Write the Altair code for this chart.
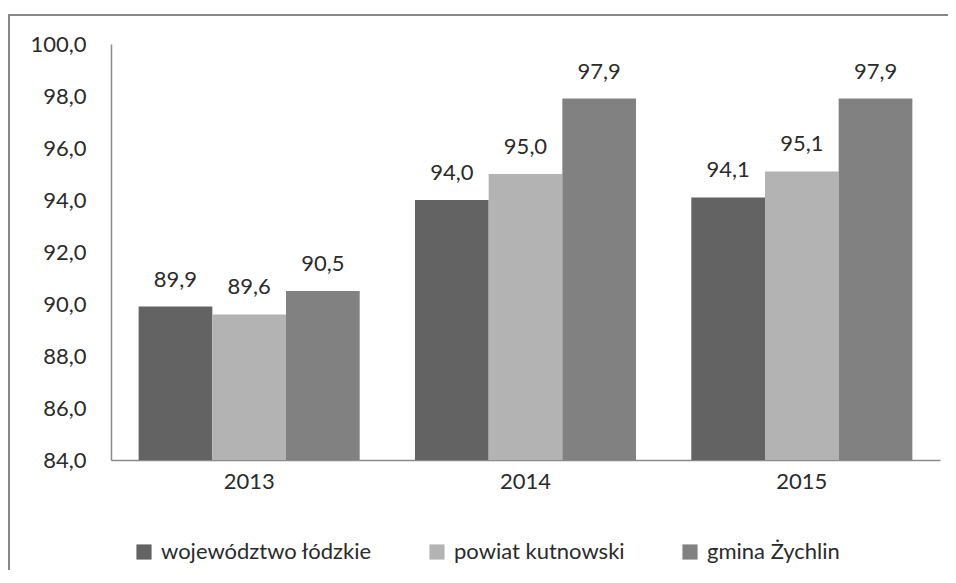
import altair as alt
import pandas as pd

years = ["2013", "2014", "2015"]
series = ["województwo łódzkie", "powiat kutnowski", "gmina Żychlin"]
wojewodztwo = [89.9, 94.0, 94.1]
powiat = [89.6, 95.0, 95.1]
gmina = [90.5, 97.9, 97.9]
colors = ["#636363", "#b3b3b3", "#818181"]
y_ticks = [84, 86, 88, 90, 92, 94, 96, 98, 100]

rows = []
for name, vals in zip(series, [wojewodztwo, powiat, gmina]):
    for yr, v in zip(years, vals):
        rows.append({"rok": yr, "seria": name, "wartosc": v})
df = pd.DataFrame(rows)

W, H = 829, 416
FONT = "Lato"
FS = 22
TXT = "#2b2b2b"

x = alt.X("rok:N", sort=years, title=None,
          scale=alt.Scale(paddingInner=0.2, paddingOuter=0.1),
          axis=alt.Axis(labelAngle=0, ticks=False, domainColor="#8a8a8a", domainWidth=1.5,
                        labelFontSize=FS, labelFont=FONT, labelColor=TXT, labelPadding=11, grid=False))
y = alt.Y("wartosc:Q", title=None,
          scale=alt.Scale(domain=[84, 100], nice=False, zero=False),
          axis=alt.Axis(values=y_ticks, ticks=False, grid=False, domainColor="#8a8a8a", domainWidth=1.5,
                        labelFontSize=FS, labelFont=FONT, labelColor=TXT, labelPadding=25,
                        labelExpr="replace(format(datum.value, '.1f'), '.', ',')"))
color = alt.Color("seria:N", sort=series, scale=alt.Scale(domain=series, range=colors),
                  legend=alt.Legend(title=None, orient="none", direction="horizontal",
                                    legendX=22, legendY=497, symbolType="square", symbolSize=230,
                                    symbolStrokeWidth=0, labelFontSize=FS, labelFont=FONT,
                                    labelColor=TXT, columnPadding=54, labelOffset=6, labelLimit=0))
xoff = alt.XOffset("seria:N", sort=series)

base = alt.Chart(df)
bars = base.mark_bar(clip=True).encode(x=x, y=y, color=color, xOffset=xoff)
labels = base.transform_calculate(
    lab="replace(format(datum.wartosc, '.1f'), '.', ',')"
).mark_text(dy=-20, fontSize=FS, font=FONT, color=TXT, baseline="alphabetic").encode(
    x=alt.X("rok:N", sort=years), y="wartosc:Q", xOffset=xoff, text="lab:N")
frame = alt.Chart(pd.DataFrame({"a": [0]})).mark_rect(
    fill=None, stroke="#888888", strokeWidth=2, clip=False).encode(
    x=alt.value(-102), x2=alt.value(W + 20), y=alt.value(-29), y2=alt.value(H + 300))

chart = alt.layer(frame, bars, labels).properties(
    width=W, height=H,
    autosize=alt.AutoSizeParams(type="none"),
    padding={"left": 103, "top": 36, "right": 8, "bottom": 110},
).configure_view(stroke=None)

chart.save("out.html", embed_options={"renderer": "svg", "actions": False})
